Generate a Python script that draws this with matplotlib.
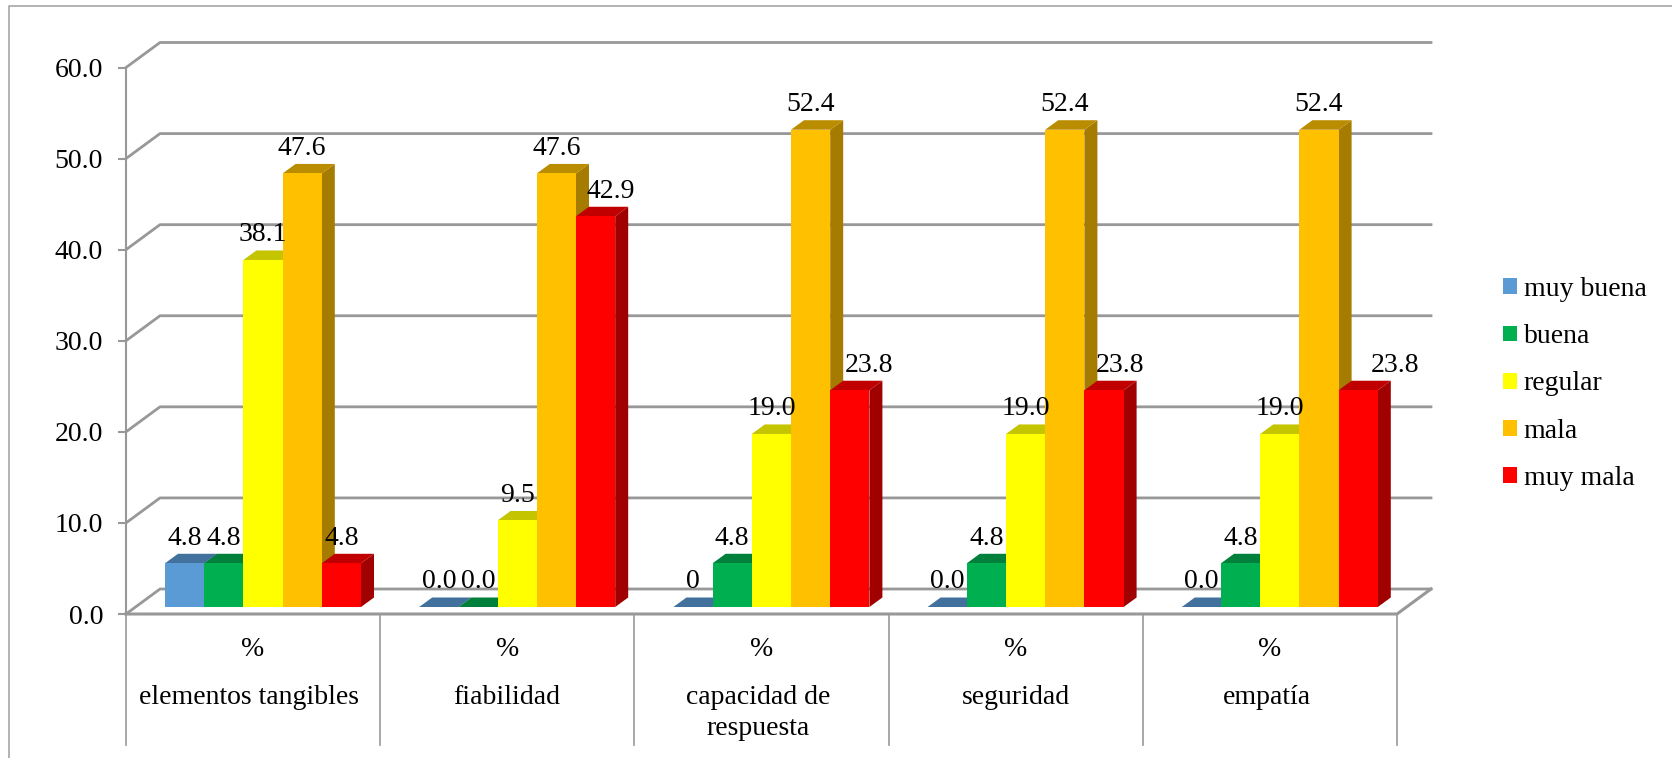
import matplotlib
matplotlib.use("Agg")
import matplotlib.pyplot as plt
from matplotlib.patches import Polygon, Rectangle

categories = ["elementos tangibles", "fiabilidad", "capacidad de\nrespuesta", "seguridad", "empatía"]
series_names = ["muy buena", "buena", "regular", "mala", "muy mala"]
muy_buena = [4.8, 0.0, 0.0, 0.0, 0.0]
buena = [4.8, 0.0, 4.8, 4.8, 4.8]
regular = [38.1, 9.5, 19.0, 19.0, 19.0]
mala = [47.6, 47.6, 52.4, 52.4, 52.4]
muy_mala = [4.8, 42.9, 23.8, 23.8, 23.8]
muy_buena_labels = ["4.8", "0.0", "0", "0.0", "0.0"]
buena_labels = ["4.8", "0.0", "4.8", "4.8", "4.8"]
regular_labels = ["38.1", "9.5", "19.0", "19.0", "19.0"]
mala_labels = ["47.6", "47.6", "52.4", "52.4", "52.4"]
muy_mala_labels = ["4.8", "42.9", "23.8", "23.8", "23.8"]
y_ticks = [0, 10, 20, 30, 40, 50, 60]

front_colors = ["#5B9BD5", "#00B050", "#FFFF00", "#FFC000", "#FF0000"]
top_colors = ["#41719C", "#00803A", "#C4C400", "#BA8C00", "#C00000"]
side_colors = ["#3A6A94", "#00703A", "#A6A600", "#A67C00", "#A00000"]

W, H = 1672, 758
GRID = "#989898"
FS = 20

# hand-placed data labels of the last series, pushed right of the bars (pixels)
red_label_shift = [0, 15, 19, 16, 37]
# category names sit slightly off centre (pixels)
name_shift = [-4, -1, -3, 0, -3]

plt.rcParams["font.family"] = ["Liberation Serif", "DejaVu Serif"]
fig = plt.figure(figsize=(W / 100, H / 100), dpi=100)

# front plane of the 3D box, in pixels from the top left corner
left, right, bottom, top = 126, 1397, 614, 67.5
ax = fig.add_axes([left / W, 1 - bottom / H, (right - left) / W, (bottom - top) / H])
ax.set_xlim(0, 5)
ax.set_ylim(0, 60)
ax.patch.set_visible(False)

px_x = 5 / (right - left)
px_y = 60 / (bottom - top)

# wall depth and bar depth
wall_dx, wall_dy = 34 * px_x, 25 * px_y
bar_dx, bar_dy = 13 * px_x, 9.5 * px_y
bar_w = 39.2 * px_x
bar_start = 39 * px_x
bar_base = 7 * px_y

for s in ["top", "right", "bottom"]:
    ax.spines[s].set_visible(False)
ax.spines["left"].set_color(GRID)
ax.spines["left"].set_linewidth(1.5)
ax.set_xticks([])
ax.set_yticks(y_ticks)
ax.set_yticklabels([f"{v:.1f}" for v in y_ticks], fontsize=FS)
ax.tick_params(axis="y", length=6, width=1.5, color=GRID, pad=10.5)

# gridlines run up the left wall and across the back
for v in y_ticks:
    ax.plot([0, wall_dx, 5 + wall_dx], [v, v + wall_dy, v + wall_dy], color=GRID, lw=2, clip_on=False, zorder=1)

# floor edges
ax.plot([0, 5, 5 + wall_dx], [0, 0, wall_dy], color=GRID, lw=2.2, clip_on=False, zorder=1)

# category dividers below the floor
for i in range(6):
    ax.plot([i, i], [0, -131 * px_y], color=GRID, lw=1.2, clip_on=False, zorder=1)

series = [muy_buena, buena, regular, mala, muy_mala]
labels = [muy_buena_labels, buena_labels, regular_labels, mala_labels, muy_mala_labels]

z = 2
for c in range(len(categories)):
    for s, vals in enumerate(series):
        v = vals[c]
        x0 = c + bar_start + s * bar_w
        x1 = x0 + bar_w
        y0 = bar_base
        y1 = bar_base + v
        if v > 0:
            ax.add_patch(Polygon([(x1, y0), (x1 + bar_dx, y0 + bar_dy), (x1 + bar_dx, y1 + bar_dy), (x1, y1)],
                                 fc=side_colors[s], ec="none", clip_on=False, zorder=z))
        ax.add_patch(Polygon([(x0, y1), (x1, y1), (x1 + bar_dx, y1 + bar_dy), (x0 + bar_dx, y1 + bar_dy)],
                             fc=top_colors[s], ec="none", clip_on=False, zorder=z))
        if v > 0:
            ax.add_patch(Rectangle((x0, y0), bar_w, v, fc=front_colors[s], ec="none", clip_on=False, zorder=z + 0.5))
        z += 1

# value labels stay above every bar
for c in range(len(categories)):
    for s, vals in enumerate(series):
        v = vals[c]
        xc = c + bar_start + (s + 0.5) * bar_w
        if s == 4:
            xc += red_label_shift[c] * px_x
        ax.text(xc, bar_base + v + bar_dy + 15.5 * px_y, labels[s][c], ha="center", va="center",
                fontsize=FS, clip_on=False, zorder=100)

# two-level category labels
for i, name in enumerate(categories):
    ax.text(i + 0.5, -35 * px_y, "%", ha="center", va="center", fontsize=FS)
    ax.text(i + 0.5 + name_shift[i] * px_x, -71 * px_y, name, ha="center", va="top", fontsize=FS, linespacing=1.31)

# legend
handles = [Rectangle((0, 0), 1, 1, fc=col, ec="none") for col in front_colors]
fig.legend(handles, series_names, loc="center left", bbox_to_anchor=(1503 / W, 1 - 384 / H),
           frameon=False, fontsize=FS, handlelength=0.5, handleheight=0.5, handletextpad=0.25,
           labelspacing=0.8, borderpad=0, borderaxespad=0)

# chart frame
fig.add_artist(plt.Line2D([9 / W, 9 / W, 1], [0, 1 - 5.5 / H, 1 - 5.5 / H], color="#A6A6A6", lw=1.2))

fig.savefig("out.png", dpi=100)
